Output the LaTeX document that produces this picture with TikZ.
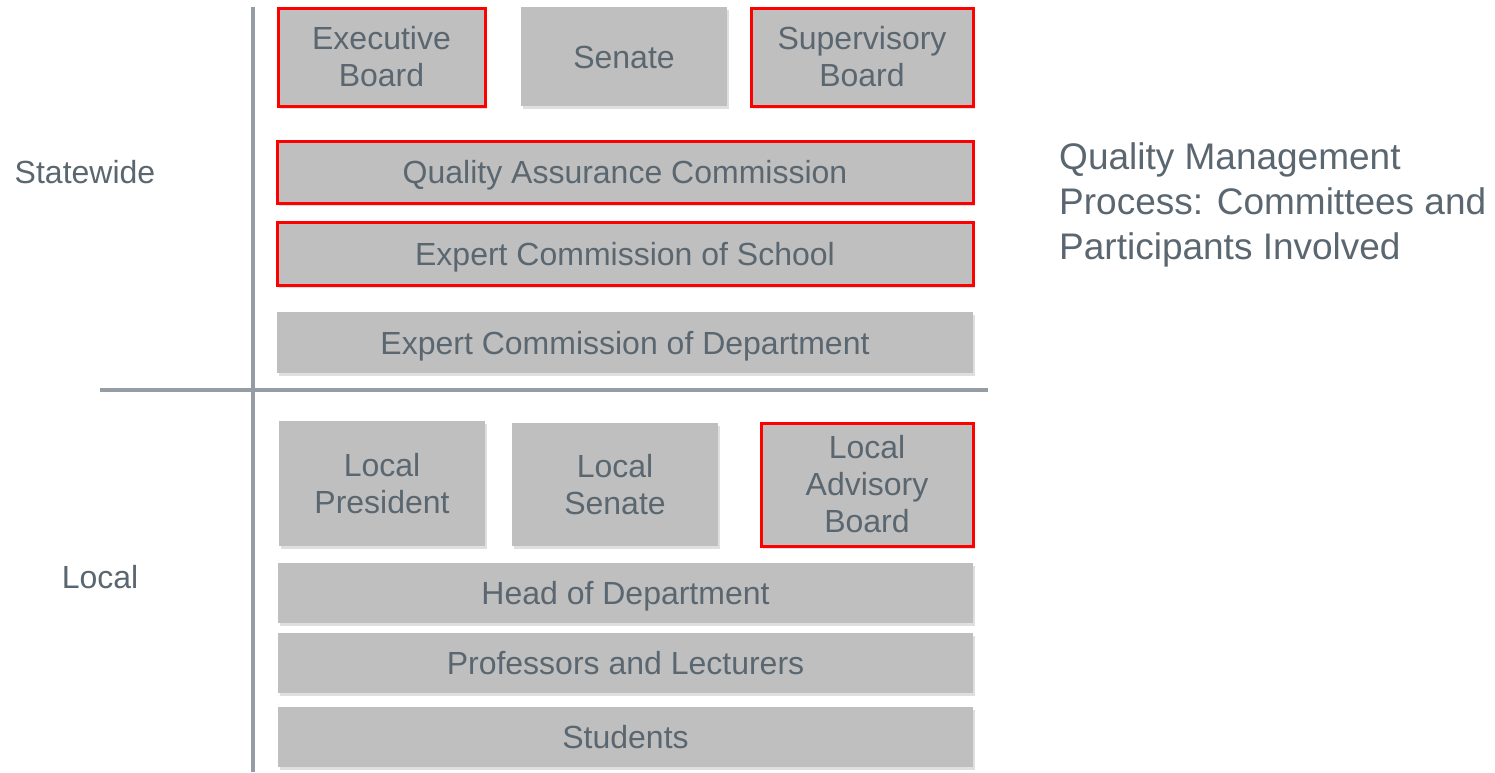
\documentclass[tikz,border=0pt]{standalone}
\usepackage{fontspec}
\setmainfont{Liberation Sans}
\usetikzlibrary{shadows}
\definecolor{qmgray}{HTML}{BFBFBF}
\definecolor{qmtext}{HTML}{5B6770}
\definecolor{qmline}{HTML}{959CA3}
\definecolor{qmred}{HTML}{FF0000}

\begin{document}
\begin{tikzpicture}[x=1pt, y=-1pt,
  box/.style={fill=qmgray, text=qmtext, align=center, inner sep=0pt,
    font=\fontsize{32}{37}\selectfont,
    drop shadow={opacity=0.25, shadow xshift=2pt, shadow yshift=-3pt}},
  redbox/.style={box, draw=qmred, line width=3pt},
  oneline/.style={text height=23pt, text depth=0pt},
  level/.style={text=qmtext, font=\fontsize{32}{37}\selectfont},
  axis/.style={qmline, line width=4pt}
]
  \useasboundingbox (0,0) rectangle (1495,772);

  % Axes
  \coordinate (vtop) at (253,7);
  \coordinate (vbot) at (253,772);
  \coordinate (hleft) at (100,390);
  \coordinate (hright) at (988,390);
  \draw[axis] (vtop) -- (vbot);
  \draw[axis] (hleft) -- (hright);

  % Statewide
  \node[redbox, minimum width=207, minimum height=98] (exec) at (381.5,57) {Executive\\Board};
  \node[box, oneline, minimum width=206, minimum height=99] (senate) at (624,56.5) {Senate};
  \node[redbox, minimum width=222, minimum height=98] (super) at (862,57) {Supervisory\\Board};
  \node[redbox, oneline, minimum width=696, minimum height=62] (qac) at (625,172) {Quality Assurance Commission};
  \node[redbox, oneline, minimum width=696, minimum height=63] (ecs) at (625,253.5) {Expert Commission of School};
  \node[box, oneline, minimum width=696, minimum height=61] (ecd) at (625,342.5) {Expert Commission of Department};

  % Local
  \node[box, minimum width=206, minimum height=125] (lpres) at (382,483.5) {Local\\President};
  \node[box, minimum width=206, minimum height=123] (lsen) at (615,484.5) {Local\\Senate};
  \node[redbox, minimum width=212, minimum height=123] (ladv) at (867,484.5) {Local\\Advisory\\Board};
  \node[box, oneline, minimum width=695, minimum height=60] (hod) at (625.5,593) {Head of Department};
  \node[box, oneline, minimum width=695, minimum height=60] (prof) at (625.5,663) {Professors and Lecturers};
  \node[box, oneline, minimum width=695, minimum height=60] (stud) at (625.5,737) {Students};

  % Level labels and title
  \node[level] (statewide) at (85,172) {Statewide};
  \node[level] (local) at (100,577) {Local};
  \node[text=qmtext, anchor=north west, align=left, inner sep=0pt,
    font=\fontsize{37}{45}\selectfont] (title) at (1059,142)
    {Quality Management\\Process: Committees and\\Participants Involved};
\end{tikzpicture}
\end{document}
